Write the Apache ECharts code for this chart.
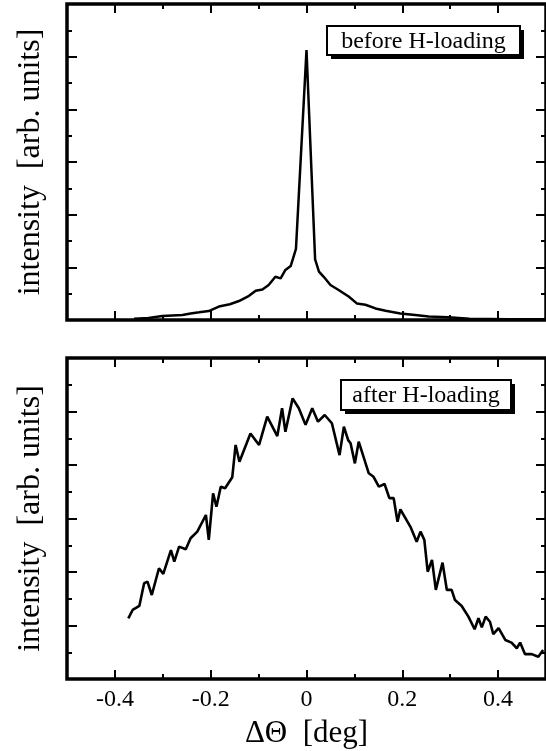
<!DOCTYPE html>
<html>
<head>
<meta charset="utf-8">
<script src="https://cdn.jsdelivr.net/npm/echarts@6/dist/echarts.min.js"></script>
<style>
  html, body { margin: 0; padding: 0; background: #fff; }
  #chart { width: 546px; height: 751px; }
</style>
</head>
<body>
<div id="chart"></div>
<script>
// rocking curve before H-loading (top panel)
var beforeX = [-0.36, -0.33, -0.301, -0.28, -0.259, -0.242, -0.224, -0.204, -0.183, -0.16, -0.141, -0.12,
  -0.106, -0.092, -0.079, -0.065, -0.054, -0.044, -0.033, -0.022, 0, 0.018, 0.026, 0.036, 0.05, 0.067,
  0.088, 0.105, 0.123, 0.144, 0.165, 0.196, 0.227, 0.255, 0.296, 0.34, 0.42, 0.5];
var beforeY = [0.05, 0.08, 0.15, 0.17, 0.19, 0.25, 0.29, 0.34, 0.51, 0.6, 0.72, 0.92,
  1.11, 1.16, 1.33, 1.64, 1.58, 1.9, 2.05, 2.7, 10.25, 2.3, 1.84, 1.64, 1.33, 1.14,
  0.89, 0.63, 0.58, 0.44, 0.35, 0.25, 0.19, 0.13, 0.1, 0.05, 0.03, 0.03];

// rocking curve after H-loading (bottom panel)
var afterX = [-0.372, -0.363, -0.349, -0.339, -0.332, -0.323, -0.308, -0.299, -0.283, -0.276, -0.266, -0.252,
  -0.242, -0.228, -0.21, -0.204, -0.195, -0.188, -0.179, -0.17, -0.155, -0.148, -0.14, -0.117, -0.099,
  -0.082, -0.061, -0.051, -0.044, -0.029, -0.016, -0.002, 0.012, 0.024, 0.038, 0.053, 0.069, 0.078,
  0.087, 0.092, 0.101, 0.109, 0.13, 0.14, 0.151, 0.163, 0.173, 0.182, 0.19, 0.196, 0.217, 0.23, 0.238,
  0.246, 0.253, 0.262, 0.27, 0.284, 0.293, 0.303, 0.31, 0.324, 0.338, 0.351, 0.359, 0.366, 0.374,
  0.383, 0.39, 0.401, 0.415, 0.428, 0.439, 0.446, 0.456, 0.47, 0.484, 0.494];
var afterY = [2.27, 2.58, 2.73, 3.58, 3.64, 3.14, 4.14, 3.93, 4.82, 4.39, 4.95, 4.85,
  5.26, 5.51, 6.13, 5.2, 6.94, 6.44, 7.19, 7.13, 7.54, 8.75, 8.12, 9.18, 8.75,
  9.81, 9.08, 10.12, 9.24, 10.49, 10.12, 9.5, 10.12, 9.62, 9.87, 9.56, 8.37, 9.43,
  8.93, 8.81, 8.06, 8.87, 7.69, 7.56, 7.19, 7.29, 6.76, 6.76, 5.88, 6.34, 5.69, 5.13, 5.51,
  5.2, 4.01, 4.45, 3.33, 4.35, 3.33, 3.33, 2.95, 2.73, 2.33, 1.86, 2.27, 1.93, 2.33,
  2.14, 1.68, 1.9, 1.46, 1.36, 1.15, 1.36, 0.93, 0.93, 0.83, 1.08];

var xTickLabels = ["-0.4", "-0.2", "0", "0.2", "0.4"];

var serif = "Liberation Serif";

function pairs(xs, ys) {
  return xs.map(function (x, i) { return [x, ys[i]]; });
}

// x axes: one with the major ticks (and labels), one with the minor 0.1 ticks
function xAxes(grid, pos, labels) {
  return [
    {
      type: "value", gridIndex: grid, position: pos, min: -0.5, max: 0.5, splitNumber: 5,
      axisLine: { show: false, onZero: false }, splitLine: { show: false },
      axisTick: { inside: true, length: 9, lineStyle: { color: "#000", width: 2 } },
      axisLabel: {
        show: labels, showMinLabel: false, showMaxLabel: false, margin: 9,
        color: "#000", fontFamily: serif, fontSize: 24,
        formatter: function (v) {
          var s = String(Math.round(v * 10) / 10);
          return xTickLabels.indexOf(s) >= 0 ? s : "";
        }
      },
      name: labels ? "\u0394\u0398  [deg]" : "", nameLocation: "middle", nameGap: 39,
      nameTextStyle: { color: "#000", fontFamily: serif, fontSize: 31 }
    },
    {
      type: "value", gridIndex: grid, position: pos, min: -0.5, max: 0.5, interval: 0.1,
      axisLine: { show: false, onZero: false }, splitLine: { show: false }, axisLabel: { show: false },
      axisTick: { inside: true, length: 5, lineStyle: { color: "#000", width: 2 } }
    }
  ];
}

function yAxis(grid, pos, named) {
  return {
    type: "value", gridIndex: grid, position: pos, min: 0, max: 12, interval: 2,
    axisLine: { show: false, onZero: false }, splitLine: { show: false }, axisLabel: { show: false },
    axisTick: { inside: true, length: 10, lineStyle: { color: "#000", width: 2 } },
    minorTick: { show: true, splitNumber: 2, length: 5, lineStyle: { color: "#000", width: 2 } },
    name: named ? "intensity  [arb. units]" : "", nameLocation: "middle", nameGap: 20,
    nameTextStyle: { color: "#000", fontFamily: serif, fontSize: 32 }
  };
}

function legendBox(x, y, w, h, text) {
  return [
    { type: "rect", shape: { x: x + 4, y: y + 4, width: w, height: h }, style: { fill: "#000" } },
    { type: "rect", shape: { x: x, y: y, width: w, height: h }, style: { fill: "#fff", stroke: "#000", lineWidth: 2 } },
    {
      type: "text", x: x + w / 2, y: y + h / 2 + 1,
      style: { text: text, fill: "#000", font: "24px " + serif, textAlign: "center", textVerticalAlign: "middle" }
    }
  ];
}

var gridStyle = { show: true, borderColor: "#000", borderWidth: 3.5, backgroundColor: "transparent" };

var option = {
  backgroundColor: "#fff",
  animation: false,
  grid: [
    Object.assign({ left: 67, top: 4, width: 479, height: 316 }, gridStyle),
    Object.assign({ left: 67, top: 358, width: 479, height: 321 }, gridStyle)
  ],
  xAxis: [].concat(
    xAxes(0, "bottom", false), xAxes(0, "top", false),
    xAxes(1, "bottom", true), xAxes(1, "top", false)
  ),
  yAxis: [yAxis(0, "left", true), yAxis(0, "right", false), yAxis(1, "left", true), yAxis(1, "right", false)],
  series: [
    {
      type: "line", xAxisIndex: 0, yAxisIndex: 0, data: pairs(beforeX, beforeY),
      symbol: "none", lineStyle: { color: "#000", width: 2.5 }
    },
    {
      type: "line", xAxisIndex: 4, yAxisIndex: 2, data: pairs(afterX, afterY),
      symbol: "none", lineStyle: { color: "#000", width: 2.6 }
    }
  ],
  graphic: [].concat(
    legendBox(327, 26, 193, 29, "before H-loading"),
    legendBox(341, 380, 170, 30, "after H-loading")
  )
};

var chart = echarts.init(document.getElementById("chart"));
chart.setOption(option);
</script>
</body>
</html>
